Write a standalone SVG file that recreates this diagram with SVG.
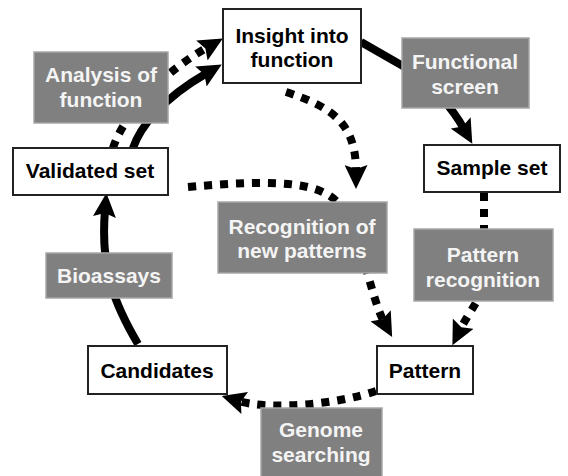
<svg xmlns="http://www.w3.org/2000/svg" width="568" height="476" viewBox="0 0 568 476">
<defs>
<marker id="ah" viewBox="0 0 24 23" markerWidth="24" markerHeight="23" refX="7" refY="11.5" orient="auto" markerUnits="userSpaceOnUse">
<path d="M0,0 L24,11.5 L0,23 L4,11.5 Z" fill="#000"/>
</marker>
<style>
.box{fill:#fff;stroke:#222;stroke-width:2}
.gbox{fill:#808080;stroke:#a6a6a6;stroke-width:1.5}
.t{font-family:"Liberation Sans",Arial,sans-serif;font-weight:bold;font-size:21px;text-anchor:middle;fill:#000}
.w{fill:#f4f4f4}
.solid{fill:none;stroke:#000;stroke-width:8}
.dot{fill:none;stroke:#000;stroke-width:8;stroke-dasharray:8 8}
</style>
</defs>
<rect width="568" height="476" fill="#fff"/>
<g id="connectors">
<path class="solid" d="M133,148 C140,128 160,100 207,73" marker-end="url(#ah)"/>
<path class="dot" d="M113,148 C120,125 150,80 208,47" marker-end="url(#ah)"/>
<path class="solid" d="M361,42 L410,70 Q445,95 464,129" marker-end="url(#ah)"/>
<path class="dot" d="M286,92 C335,108 356,125 356,172" marker-end="url(#ah)"/>
<path class="dot" d="M188,187 C290,178 328,183 345,212 S372,300 384,322" marker-end="url(#ah)"/>
<path class="dot" d="M484,193 L484,280 C484,295 470,310 460,330" marker-end="url(#ah)"/>
<path class="dot" d="M376,391 C335,405 268,410 238,401" marker-end="url(#ah)"/>
<path class="solid" d="M138,344 C115,305 100,270 105,210" marker-end="url(#ah)"/>
</g>
<g id="insight">
<rect class="box" x="223" y="9" width="138" height="74"/>
<text class="t" x="292" y="43">Insight into</text>
<text class="t" x="292" y="67">function</text>
</g>
<g id="analysis">
<rect class="gbox" x="34" y="52" width="134" height="71"/>
<text class="t w" x="101" y="82">Analysis of</text>
<text class="t w" x="101" y="107">function</text>
</g>
<g id="functional-screen">
<rect class="gbox" x="402" y="38" width="127" height="70"/>
<text class="t w" x="465" y="69">Functional</text>
<text class="t w" x="465" y="94">screen</text>
</g>
<g id="validated-set">
<rect class="box" x="13" y="148" width="155" height="47"/>
<text class="t" x="90" y="178">Validated set</text>
</g>
<g id="sample-set">
<rect class="box" x="424" y="145" width="136" height="47"/>
<text class="t" x="492" y="175">Sample set</text>
</g>
<g id="recognition-new">
<rect class="gbox" x="218" y="202" width="169" height="71"/>
<text class="t w" x="302" y="234">Recognition of</text>
<text class="t w" x="302" y="258">new patterns</text>
</g>
<g id="pattern-recognition">
<rect class="gbox" x="414" y="229" width="139" height="72"/>
<text class="t w" x="483" y="262">Pattern</text>
<text class="t w" x="483" y="287">recognition</text>
</g>
<g id="bioassays">
<rect class="gbox" x="46" y="253" width="126" height="45"/>
<text class="t w" x="109" y="283">Bioassays</text>
</g>
<g id="candidates">
<rect class="box" x="88" y="346" width="139" height="48"/>
<text class="t" x="157" y="378">Candidates</text>
</g>
<g id="pattern">
<rect class="box" x="377" y="346" width="96" height="48"/>
<text class="t" x="425" y="378">Pattern</text>
</g>
<g id="genome-searching">
<rect class="gbox" x="261" y="408" width="121" height="72"/>
<text class="t w" x="321" y="437">Genome</text>
<text class="t w" x="321" y="462">searching</text>
</g>
</svg>
